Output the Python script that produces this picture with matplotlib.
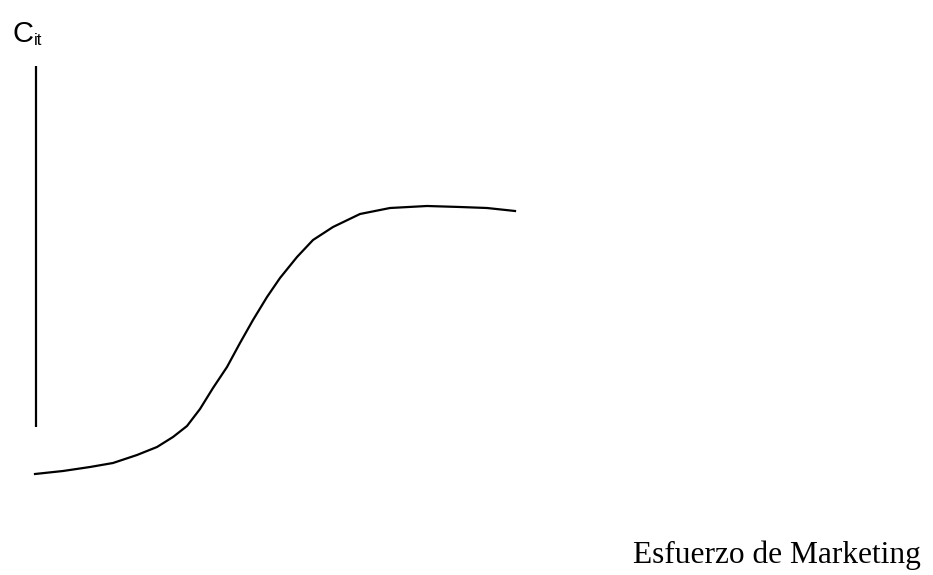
import matplotlib
matplotlib.use('Agg')
import matplotlib.pyplot as plt

# curve points (marketing effort vs response)
effort = [35, 63, 90, 113, 137, 157, 173, 187, 200, 213, 227, 240, 253,
          267, 280, 297, 313, 333, 360, 390, 427, 460, 487, 515]
response = [101, 104, 108, 112, 120, 128, 138, 149, 166, 187, 208, 232,
            255, 278, 297, 318, 335, 348, 361, 367, 369, 368, 367, 364]

# vertical axis line
axis_x = [35.5, 35.5]
axis_y = [148, 509]

fig = plt.figure(figsize=(9.33, 5.75), dpi=100)
ax = fig.add_axes([0, 0, 1, 1])
ax.set_xlim(0, 933)
ax.set_ylim(0, 575)
ax.axis('off')

ax.plot(axis_x, axis_y, color='black', lw=1.6, solid_capstyle='butt')
ax.plot(effort, response, color='black', lw=1.6, solid_joinstyle='round')

#labels :
ax.text(12, 533, 'C', fontsize=21, family='Liberation Sans', va='baseline')
ax.text(34, 530, 'it', fontsize=12, family='Liberation Sans', va='baseline')
ax.text(633, 12, 'Esfuerzo de Marketing', fontsize=22.6,
        family='Liberation Serif', va='baseline')

fig.savefig('out.png', dpi=100)
